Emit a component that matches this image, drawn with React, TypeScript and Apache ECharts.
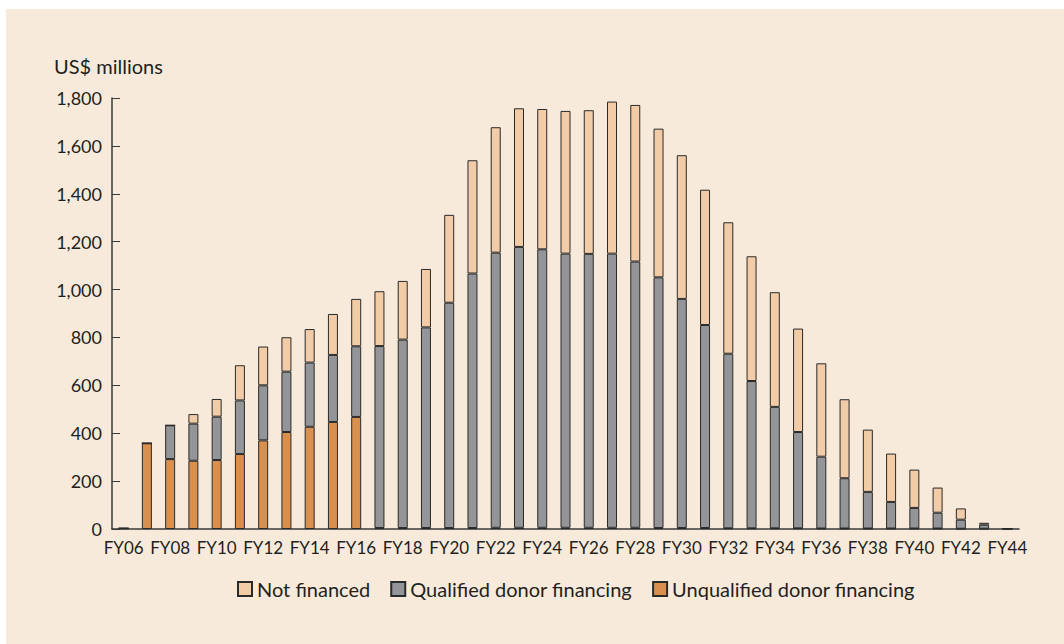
import React, { useEffect, useRef } from "react";
import * as echarts from "echarts";

const categories = [
  "FY06","FY07","FY08","FY09","FY10","FY11","FY12","FY13","FY14","FY15",
  "FY16","FY17","FY18","FY19","FY20","FY21","FY22","FY23","FY24","FY25",
  "FY26","FY27","FY28","FY29","FY30","FY31","FY32","FY33","FY34","FY35",
  "FY36","FY37","FY38","FY39","FY40","FY41","FY42","FY43","FY44",
];

// Unqualified donor financing (bottom)
const unqualified = [
  3, 358, 292, 285, 288, 313, 370, 405, 427, 447,
  468, 4, 4, 4, 4, 4, 5, 5, 5, 5,
  5, 5, 5, 4, 4, 4, 3, 3, 3, 3,
  2, 2, 2, 2, 2, 2, 1, 1, 0,
];

// Qualified donor financing totals (cumulative top of grey segment)
const qualifiedTop = [
  3, 358, 433, 440, 469, 537, 600, 657, 695, 727,
  763, 764, 791, 842, 945, 1067, 1154, 1178, 1168, 1150,
  1149, 1150, 1117, 1051, 961, 852, 732, 618, 510, 405,
  302, 212, 155, 113, 88, 68, 39, 18, 2,
];

// Overall totals (top of bar)
const totals = [
  3, 358, 433, 480, 543, 684, 762, 801, 835, 898,
  961, 993, 1036, 1086, 1312, 1540, 1678, 1757, 1754, 1746,
  1749, 1785, 1771, 1672, 1561, 1417, 1281, 1139, 989, 837,
  692, 542, 415, 315, 248, 173, 86, 26, 2,
];

const qualified = qualifiedTop.map((v, i) => Math.max(0, v - unqualified[i]));
const notFinanced = totals.map((v, i) => Math.max(0, v - qualifiedTop[i]));

const yTicks = [0, 200, 400, 600, 800, 1000, 1200, 1400, 1600, 1800];

const FONT = "Lato";
const TEXT = "#231f20";
const BORDER = "#2a2a2a";

export default function App() {
  const ref = useRef<HTMLDivElement>(null);

  useEffect(() => {
    if (!ref.current) return;
    const chart = echarts.init(ref.current, undefined, { renderer: "svg" });
    const barStyle = (color: string) => ({
      color,
      borderColor: BORDER,
      borderWidth: 1,
    });
    chart.setOption({
      animation: false,
      backgroundColor: "#F7EADB",
      textStyle: { fontFamily: FONT, color: TEXT },
      graphic: [
        {
          type: "text",
          left: 48,
          top: 47,
          style: { text: "US$ millions", fontFamily: FONT, fontSize: 20, fill: TEXT },
        },
      ],
      legend: {
        top: 565,
        left: 226,
        data: ["Not financed", "Qualified donor financing", "Unqualified donor financing"],
        icon: "rect",
        itemWidth: 14,
        itemHeight: 14,
        itemGap: 20,
        textStyle: { fontFamily: FONT, fontSize: 20, color: TEXT },
      },
      grid: { left: 106, right: 45, top: 89, bottom: 115, containLabel: false },
      xAxis: {
        type: "category",
        data: categories,
        axisLine: { lineStyle: { color: "#3a3a3a", width: 1.5 } },
        axisTick: { inside: true, length: 6, interval: 0, lineStyle: { color: "#3a3a3a" } },
        axisLabel: {
          interval: 1,
          fontFamily: FONT,
          fontSize: 17,
          color: TEXT,
          margin: 10,
        },
      },
      yAxis: {
        type: "value",
        min: 0,
        max: 1800,
        interval: 200,
        axisLine: { show: true, lineStyle: { color: "#3a3a3a", width: 1.5 } },
        axisTick: { show: true, inside: true, length: 8, lineStyle: { color: "#3a3a3a" } },
        splitLine: { show: false },
        axisLabel: {
          fontFamily: FONT,
          fontSize: 18,
          color: TEXT,
          margin: 10,
          formatter: (v: number) => (yTicks.includes(v) ? v.toLocaleString("en-US") : ""),
        },
      },
      series: [
        {
          name: "Unqualified donor financing",
          type: "bar",
          stack: "total",
          barWidth: 10,
          data: unqualified,
          itemStyle: barStyle("#D9904F"),
        },
        {
          name: "Qualified donor financing",
          type: "bar",
          stack: "total",
          barWidth: 10,
          data: qualified,
          itemStyle: barStyle("#939598"),
        },
        {
          name: "Not financed",
          type: "bar",
          stack: "total",
          barWidth: 10,
          data: notFinanced,
          itemStyle: barStyle("#F2CBA7"),
        },
      ],
    });
    return () => chart.dispose();
  }, []);

  return (
    <div
      style={{
        position: "absolute",
        left: 6,
        top: 9,
        width: 1058,
        height: 635,
        background: "#F7EADB",
      }}
    >
      <div ref={ref} style={{ width: 1058, height: 635 }} />
    </div>
  );
}
